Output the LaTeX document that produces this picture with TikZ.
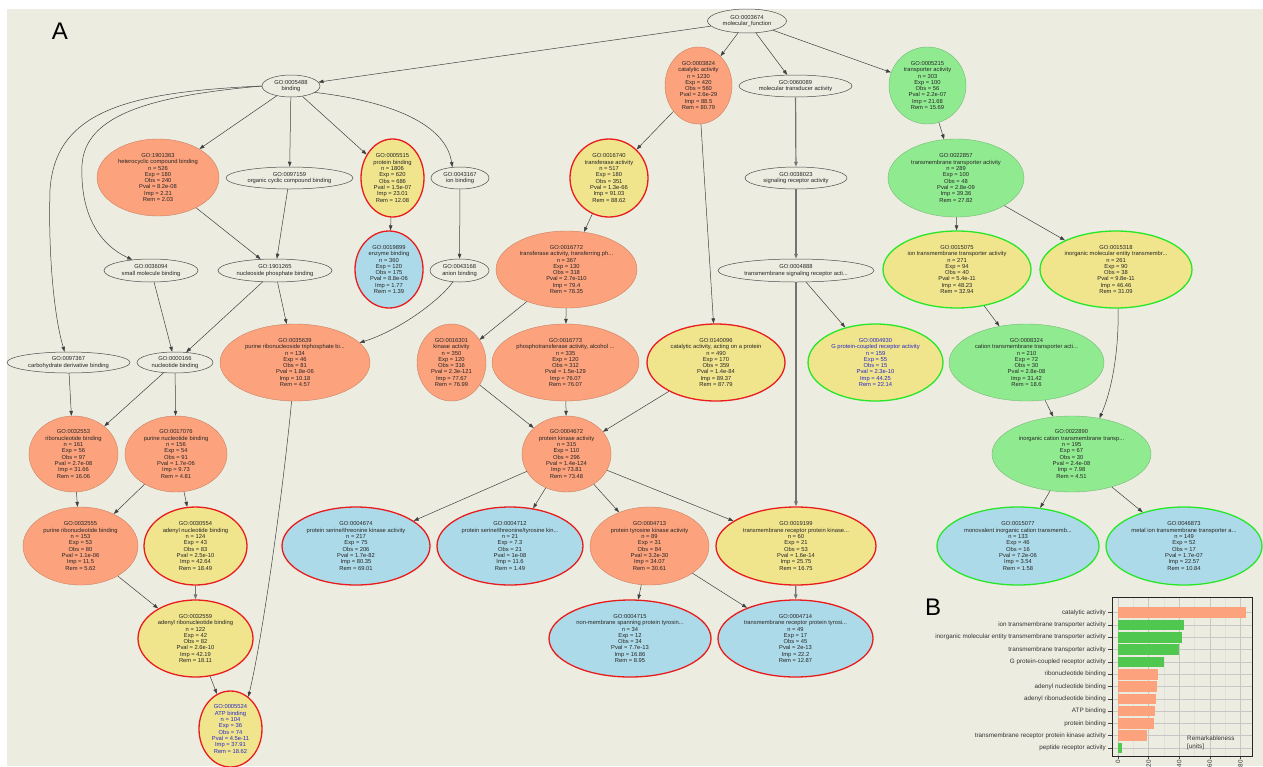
\documentclass[tikz,border=0pt]{standalone}
\usepackage{fontspec}
\setmainfont{Liberation Sans}
\usetikzlibrary{shapes.geometric,arrows.meta}

\definecolor{pagebg}{RGB}{236,236,225}
\definecolor{salmonfill}{RGB}{252,162,124}
\definecolor{khakifill}{RGB}{240,228,140}
\definecolor{mintfill}{RGB}{144,234,144}
\definecolor{skyfill}{RGB}{173,218,232}
\definecolor{ringred}{RGB}{232,28,28}
\definecolor{ringgreen}{RGB}{40,230,40}
\definecolor{bargreen}{RGB}{80,200,80}
\definecolor{sigblue}{RGB}{40,40,200}

\newcommand{\gostats}[8]{#1\\#2\\n = #3\\Exp = #4\\Obs = #5\\Pval = #6\\Imp = #7\\Rem = #8}

\tikzset{
  term/.style={ellipse, inner sep=0pt, align=center, text=black!85,
    font=\fontsize{5.8}{6.3}\selectfont},
  ell/.style 2 args={minimum width=#1, minimum height=#2},
  plain/.style={term, draw=black!70, line width=0.5pt, fill=pagebg},
  salmon/.style={term, fill=salmonfill, draw=salmonfill!80!black, line width=0.4pt},
  mint/.style={term, fill=mintfill, draw=mintfill!80!black, line width=0.4pt},
  khaki red/.style={term, fill=khakifill, draw=ringred, line width=1.3pt},
  khaki green/.style={term, fill=khakifill, draw=ringgreen, line width=1.3pt},
  sky red/.style={term, fill=skyfill, draw=ringred, line width=1.3pt},
  sky green/.style={term, fill=skyfill, draw=ringgreen, line width=1.3pt},
  link/.style={draw=black!75, line width=0.5pt, -{Triangle[length=5pt,width=3.5pt]}},
  heavy link/.style={link, draw=black!55, line width=1.2pt},
  barlabel/.style={anchor=east, inner sep=0pt, text=black!80, font=\fontsize{6.3}{7}\selectfont},
  gridline/.style={draw=black!12, line width=0.5pt},
}

\begin{document}
\begin{tikzpicture}[x=1pt, y=-1pt]
    % page and panel background
    \useasboundingbox (0,0) rectangle (1263,766);
    \fill[pagebg] (7,9) rectangle (1263,766);
    \node[font=\fontsize{24}{24}\selectfont] (panelA) at (60,31) {A};

    % top of the GO graph
    \node[plain, ell={79}{24}] (mf) at (747,21) {GO:0003674\\molecular\_function};
    \node[plain, ell={58}{22}] (bind) at (291,86) {GO:0005488\\binding};
    \node[salmon, ell={67}{77}] (cat) at (698.5,85.5) {\gostats{GO:0003824}{catalytic activity}{1230}{420}{560}{2.6e-29}{88.5}{80.79}};
    \node[plain, ell={113}{22}] (mta) at (795.5,86) {GO:0060089\\molecular transducer activity};
    \node[mint, ell={77}{77}] (tra) at (927.5,85.5) {\gostats{GO:0005215}{transporter activity}{303}{100}{56}{2.2e-07}{21.68}{15.69}};

    % second level
    \node[salmon, ell={122}{77}] (hcb) at (158,177.5) {\gostats{GO:1901363}{heterocyclic compound binding}{526}{180}{240}{8.2e-08}{2.21}{2.03}};
    \node[plain, ell={127}{22}] (occ) at (289.5,178) {GO:0097159\\organic cyclic compound binding};
    \node[khaki red, ell={63}{78}] (prb) at (392.5,178) {\gostats{GO:0005515}{protein binding}{1806}{620}{686}{1.5e-07}{23.01}{12.08}};
    \node[plain, ell={58}{22}] (ionb) at (460,178) {GO:0043167\\ion binding};
    \node[khaki red, ell={78}{78}] (trf) at (609,178) {\gostats{GO:0016740}{transferase activity}{517}{180}{351}{1.3e-66}{91.03}{88.62}};
    \node[plain, ell={102}{22}] (sra) at (796,178) {GO:0038023\\signaling receptor activity};
    \node[mint, ell={136}{78}] (tmt) at (956,178) {\gostats{GO:0022857}{transmembrane transporter activity}{289}{100}{48}{2.8e-09}{39.36}{27.82}};

    % third level
    \node[plain, ell={94}{23}] (smb) at (151,270.5) {GO:0036094\\small molecule binding};
    \node[plain, ell={114}{23}] (npb) at (275,270.5) {GO:1901265\\nucleoside phosphate binding};
    \node[sky red, ell={68}{77}] (enz) at (389,269.5) {\gostats{GO:0019899}{enzyme binding}{360}{120}{175}{8.8e-06}{1.77}{1.39}};
    \node[plain, ell={59}{23}] (anb) at (459.5,270.5) {GO:0043168\\anion binding};
    \node[salmon, ell={141}{77}] (trp) at (566.5,269.5) {\gostats{GO:0016772}{transferase activity, transferring ph...}{367}{130}{318}{2.7e-110}{79.4}{78.35}};
    \node[plain, ell={156}{23}] (tsr) at (796,270.5) {GO:0004888\\transmembrane signaling receptor acti...};
    \node[khaki green, ell={148}{77}] (itt) at (957,269.5) {\gostats{GO:0015075}{ion transmembrane transporter activity}{271}{94}{40}{5.4e-11}{48.23}{32.94}};
    \node[khaki green, ell={152}{77}] (ime) at (1116,269.5) {\gostats{GO:0015318}{inorganic molecular entity transmembr...}{261}{90}{38}{9.8e-11}{46.46}{31.09}};

    % fourth level
    \node[plain, ell={123}{21}] (cdb) at (68.5,362.5) {GO:0097367\\carbohydrate derivative binding};
    \node[plain, ell={76}{21}] (ntb) at (175,362.5) {GO:0000166\\nucleotide binding};
    \node[salmon, ell={150}{77}] (prt) at (295,362.5) {\gostats{GO:0035639}{purine ribonucleoside triphosphate bi...}{134}{46}{81}{1.8e-06}{10.18}{4.57}};
    \node[salmon, ell={69}{77}] (kin) at (451.5,362.5) {\gostats{GO:0016301}{kinase activity}{350}{120}{316}{2.3e-121}{77.67}{76.99}};
    \node[salmon, ell={147}{77}] (pta) at (565.5,362.5) {\gostats{GO:0016773}{phosphotransferase activity, alcohol ...}{335}{120}{312}{1.5e-129}{76.07}{76.07}};
    \node[khaki red, ell={138}{77}] (cap) at (716,362.5) {\gostats{GO:0140096}{catalytic activity, acting on a protein}{490}{170}{359}{1.4e-84}{89.37}{87.79}};
    \node[khaki green, ell={135}{77}, text=sigblue] (gpc) at (875.5,362.5) {\gostats{GO:0004930}{G protein-coupled receptor activity}{159}{55}{15}{2.3e-10}{44.25}{22.14}};
    \node[mint, ell={155}{77}] (ctt) at (1026.5,362.5) {\gostats{GO:0008324}{cation transmembrane transporter acti...}{210}{72}{30}{2.8e-08}{31.42}{18.6}};

    % fifth level
    \node[salmon, ell={89}{76}] (rnb) at (73.5,454) {\gostats{GO:0032553}{ribonucleotide binding}{161}{56}{97}{2.7e-08}{31.66}{16.06}};
    \node[salmon, ell={102}{76}] (pnb) at (176,454) {\gostats{GO:0017076}{purine nucleotide binding}{156}{54}{91}{1.7e-06}{9.73}{4.81}};
    \node[salmon, ell={89}{76}] (pka) at (566.5,454) {\gostats{GO:0004672}{protein kinase activity}{315}{110}{296}{1.4e-124}{73.81}{73.48}};
    \node[mint, ell={159}{76}] (ict) at (1071.5,454) {\gostats{GO:0022890}{inorganic cation transmembrane transp...}{195}{67}{30}{2.4e-08}{7.98}{4.51}};

    % sixth level
    \node[salmon, ell={115}{78}] (prnb) at (80.5,546) {\gostats{GO:0032555}{purine ribonucleotide binding}{153}{53}{80}{1.1e-06}{11.5}{5.62}};
    \node[khaki red, ell={103}{78}] (anub) at (195.5,546) {\gostats{GO:0030554}{adenyl nucleotide binding}{124}{43}{83}{2.5e-10}{42.64}{18.49}};
    \node[sky red, ell={148}{78}] (pst) at (356,546) {\gostats{GO:0004674}{protein serine/threonine kinase activity}{217}{75}{206}{1.7e-82}{80.35}{69.01}};
    \node[sky red, ell={146}{78}] (psty) at (510,546) {\gostats{GO:0004712}{protein serine/threonine/tyrosine kin...}{21}{7.3}{21}{1e-08}{11.6}{1.49}};
    \node[salmon, ell={119}{78}] (ptk) at (649.5,546) {\gostats{GO:0004713}{protein tyrosine kinase activity}{89}{31}{84}{3.2e-30}{34.07}{30.61}};
    \node[khaki red, ell={160}{78}] (trk) at (796,546) {\gostats{GO:0019199}{transmembrane receptor protein kinase...}{60}{21}{53}{1.6e-14}{25.75}{16.75}};
    \node[sky green, ell={162}{78}] (mic) at (1018,546) {\gostats{GO:0015077}{monovalent inorganic cation transmemb...}{133}{46}{16}{7.2e-06}{3.54}{1.58}};
    \node[sky green, ell={156}{78}] (mit) at (1184,546) {\gostats{GO:0046873}{metal ion transmembrane transporter a...}{149}{52}{17}{1.7e-07}{22.57}{10.84}};

    % bottom levels
    \node[khaki red, ell={115}{77}] (arb) at (195.5,638.5) {\gostats{GO:0032559}{adenyl ribonucleotide binding}{122}{42}{82}{2.6e-10}{42.19}{18.11}};
    \node[sky red, ell={162}{77}] (nmt) at (630,638.5) {\gostats{GO:0004715}{non-membrane spanning protein tyrosin...}{34}{12}{34}{7.7e-13}{16.86}{8.95}};
    \node[sky red, ell={155}{77}] (tmtk) at (795.5,638.5) {\gostats{GO:0004714}{transmembrane receptor protein tyrosi...}{49}{17}{45}{2e-13}{22.2}{12.87}};
    \node[khaki red, ell={63}{76}, text=sigblue] (atp) at (230.5,729) {\gostats{GO:0005524}{ATP binding}{104}{36}{74}{4.5e-11}{37.91}{18.62}};

    % edges
    \draw[link] (mf) -- (bind);
    \draw[link] (mf) -- (cat);
    \draw[link] (mf) -- (mta);
    \draw[link] (mf) -- (tra);
    \draw[link] (bind) -- (hcb);
    \draw[link] (bind) -- (occ);
    \draw[link] (bind) -- (prb);
    \draw[link] (bind.-15) .. controls (380,100) and (445,120) .. (ionb.125);
    \draw[link] (bind.west) .. controls (150,96) and (85,115) .. (82,165) .. controls (80,215) and (100,245) .. (smb.150);
    \draw[link] (bind.west) .. controls (130,92) and (55,110) .. (50,190) .. controls (48,260) and (55,320) .. (cdb.110);
    \draw[link] (cat) -- (trf);
    \draw[link] (cat) -- (cap);
    \draw[heavy link] (mta) -- (sra);
    \draw[link] (tra) -- (tmt);
    \draw[link] (hcb) -- (npb);
    \draw[link] (occ) -- (npb);
    \draw[link] (prb) -- (enz);
    \draw[link] (ionb) -- (anb);
    \draw[link] (trf) -- (trp);
    \draw[heavy link] (sra) -- (tsr);
    \draw[link] (tmt) -- (itt);
    \draw[link] (tmt) -- (ime);
    \draw[link] (smb) -- (ntb);
    \draw[link] (npb) -- (ntb);
    \draw[link] (npb) -- (prt);
    \draw[link] (anb.-120) .. controls (440,300) and (400,330) .. (prt.17);
    \draw[link] (trp) -- (kin);
    \draw[link] (trp) -- (pta);
    \draw[link] (tsr) -- (gpc);
    \draw[heavy link] (tsr) -- (trk);
    \draw[link] (itt) -- (ctt);
    \draw[link] (ime.-87) .. controls (1119,350) and (1112,390) .. (ict.52);
    \draw[link] (ctt) -- (ict);
    \draw[link] (cdb) -- (rnb);
    \draw[link] (ntb) -- (rnb);
    \draw[link] (ntb) -- (pnb);
    \draw[link] (kin) -- (pka);
    \draw[link] (pta) -- (pka);
    \draw[link] (cap) -- (pka);
    \draw[link] (rnb) -- (prnb);
    \draw[link] (pnb) -- (prnb);
    \draw[link] (pnb) -- (anub);
    \draw[link] (pka) -- (pst);
    \draw[link] (pka) -- (psty);
    \draw[link] (pka) -- (ptk);
    \draw[link] (pka) -- (trk);
    \draw[link] (ict) -- (mic);
    \draw[link] (ict) -- (mit);
    \draw[link] (prnb) -- (arb);
    \draw[heavy link] (anub) -- (arb);
    \draw[link] (prt.-95) .. controls (282,500) and (262,640) .. (atp.61);
    \draw[link] (arb) -- (atp);
    \draw[link] (ptk) -- (nmt);
    \draw[link] (ptk) -- (tmtk);
    \draw[heavy link] (trk) -- (tmtk);

    % panel B: bar chart grid
    \node[font=\fontsize{24}{24}\selectfont] (panelB) at (933,607) {B};
    \draw[gridline] (1133.3,597) -- (1133.3,756) (1163.9,597) -- (1163.9,756)
      (1194.5,597) -- (1194.5,756) (1225.1,597) -- (1225.1,756);
    \draw[gridline, draw=black!22] (1118,597) -- (1118,756) (1148.6,597) -- (1148.6,756)
      (1179.2,597) -- (1179.2,756) (1209.8,597) -- (1209.8,756) (1240.4,597) -- (1240.4,756);
    \draw[gridline, draw=black!22] (1112,612.7) -- (1252,612.7) (1112,625) -- (1252,625)
      (1112,637.3) -- (1252,637.3) (1112,649.6) -- (1252,649.6) (1112,661.9) -- (1252,661.9)
      (1112,674.2) -- (1252,674.2) (1112,686.5) -- (1252,686.5) (1112,698.8) -- (1252,698.8)
      (1112,711.1) -- (1252,711.1) (1112,723.4) -- (1252,723.4) (1112,735.7) -- (1252,735.7)
      (1112,748) -- (1252,748);

    % the bars
    \fill[salmonfill] (1118,607.4) rectangle (1246,618.0);
    \fill[bargreen] (1118,619.7) rectangle (1184,630.3);
    \fill[bargreen] (1118,632.0) rectangle (1181.7,642.6);
    \fill[bargreen] (1118,644.3) rectangle (1179.3,654.9);
    \fill[bargreen] (1118,656.6) rectangle (1164,667.2);
    \fill[salmonfill] (1118,668.9) rectangle (1157.7,679.5);
    \fill[salmonfill] (1118,681.2) rectangle (1156.7,691.8);
    \fill[salmonfill] (1118,693.5) rectangle (1156,704.1);
    \fill[salmonfill] (1118,705.8) rectangle (1155,716.4);
    \fill[salmonfill] (1118,718.1) rectangle (1154.3,728.7);
    \fill[salmonfill] (1118,730.4) rectangle (1147.3,741.0);
    \fill[bargreen] (1118,742.7) rectangle (1121.7,753.3);

    % category labels and ticks
    \node[barlabel] (lcat) at (1106,612.7) {catalytic activity};
    \node[barlabel] (lion) at (1106,625) {ion transmembrane transporter activity};
    \node[barlabel] (line) at (1106,637.3) {inorganic molecular entity transmembrane transporter activity};
    \node[barlabel] (ltmt) at (1106,649.6) {transmembrane transporter activity};
    \node[barlabel] (lgpc) at (1106,661.9) {G protein-coupled receptor activity};
    \node[barlabel] (lrnb) at (1106,674.2) {ribonucleotide binding};
    \node[barlabel] (lanb) at (1106,686.5) {adenyl nucleotide binding};
    \node[barlabel] (larb) at (1106,698.8) {adenyl ribonucleotide binding};
    \node[barlabel] (latp) at (1106,711.1) {ATP binding};
    \node[barlabel] (lprb) at (1106,723.4) {protein binding};
    \node[barlabel] (ltrk) at (1106,735.7) {transmembrane receptor protein kinase activity};
    \node[barlabel] (lpep) at (1106,748) {peptide receptor activity};
    \draw[black!70, line width=0.5pt] (1108,612.7) -- (1112,612.7) (1108,625) -- (1112,625)
      (1108,637.3) -- (1112,637.3) (1108,649.6) -- (1112,649.6) (1108,661.9) -- (1112,661.9)
      (1108,674.2) -- (1112,674.2) (1108,686.5) -- (1112,686.5) (1108,698.8) -- (1112,698.8)
      (1108,711.1) -- (1112,711.1) (1108,723.4) -- (1112,723.4) (1108,735.7) -- (1112,735.7)
      (1108,748) -- (1112,748);
    \draw[black!70, line width=0.5pt] (1118,756) -- (1118,759) (1148.6,756) -- (1148.6,759)
      (1179.2,756) -- (1179.2,759) (1209.8,756) -- (1209.8,759) (1240.4,756) -- (1240.4,759);
    \node[barlabel, rotate=90] (t0) at (1118,760) {0};
    \node[barlabel, rotate=90] (t20) at (1148.6,760) {20};
    \node[barlabel, rotate=90] (t40) at (1179.2,760) {40};
    \node[barlabel, rotate=90] (t60) at (1209.8,760) {60};
    \node[barlabel, rotate=90] (t80) at (1240.4,760) {80};
    \node[anchor=north west, align=left, inner sep=0pt, text=black!80,
      font=\fontsize{6.3}{7.6}\selectfont] (remark) at (1187,736) {Remarkableness\\{[units]}};

    % chart frame
    \draw[black!85, line width=0.8pt] (1112,597) rectangle (1252,756);
\end{tikzpicture}
\end{document}
